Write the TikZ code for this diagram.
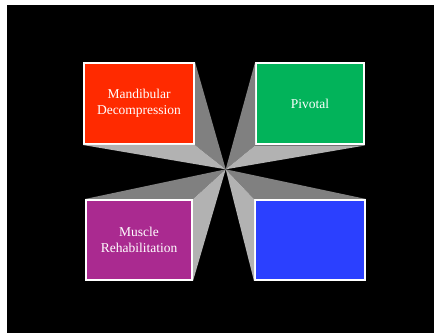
\documentclass[tikz,border=0pt]{standalone}
\usepackage{fontspec}
\setmainfont{Liberation Serif}
\definecolor{redc}{HTML}{FF2A00}
\definecolor{greenc}{HTML}{02B35A}
\definecolor{purplec}{HTML}{AA2A90}
\definecolor{bluec}{HTML}{2B40FF}
\definecolor{darkray}{HTML}{808080}
\definecolor{lightray}{HTML}{B2B2B2}
\tikzset{
  box/.style={draw=white, line width=2pt, text=white, align=center, inner sep=0pt,
    font=\fontsize{13.5}{16.5}\selectfont},
}
\begin{document}
\begin{tikzpicture}[x=1pt,y=-1pt]
\useasboundingbox (0,0) rectangle (434,336);
\fill[white] (0,0) rectangle (434,336);
\fill[black] (7,5) rectangle (434,333);
\coordinate (c) at (225.7,169.3);
\node[box, fill=redc, minimum width=110pt, minimum height=81pt] (r) at (139,103.5) {Mandibular\\Decompression};
\node[box, fill=greenc, minimum width=108pt, minimum height=81pt] (g) at (310,104) {Pivotal};
\node[box, fill=purplec, minimum width=106pt, minimum height=80pt] (p) at (139,240) {Muscle\\Rehabilitation};
\node[box, fill=bluec, minimum width=110pt, minimum height=80pt] (b) at (310,240) {};
% rays
\fill[darkray] (r.north east) -- (r.south east) -- (c) -- cycle;
\fill[lightray] (r.south west) -- (r.south east) -- (c) -- cycle;
\fill[darkray] (g.north west) -- (g.south west) -- (c) -- cycle;
\fill[lightray] (g.south west) -- (g.south east) -- (c) -- cycle;
\fill[darkray] (p.north west) -- (p.north east) -- (c) -- cycle;
\fill[lightray] (p.north east) -- (p.south east) -- (c) -- cycle;
\fill[darkray] (b.north west) -- (b.north east) -- (c) -- cycle;
\fill[lightray] (b.north west) -- (b.south west) -- (c) -- cycle;
\end{tikzpicture}
\end{document}
